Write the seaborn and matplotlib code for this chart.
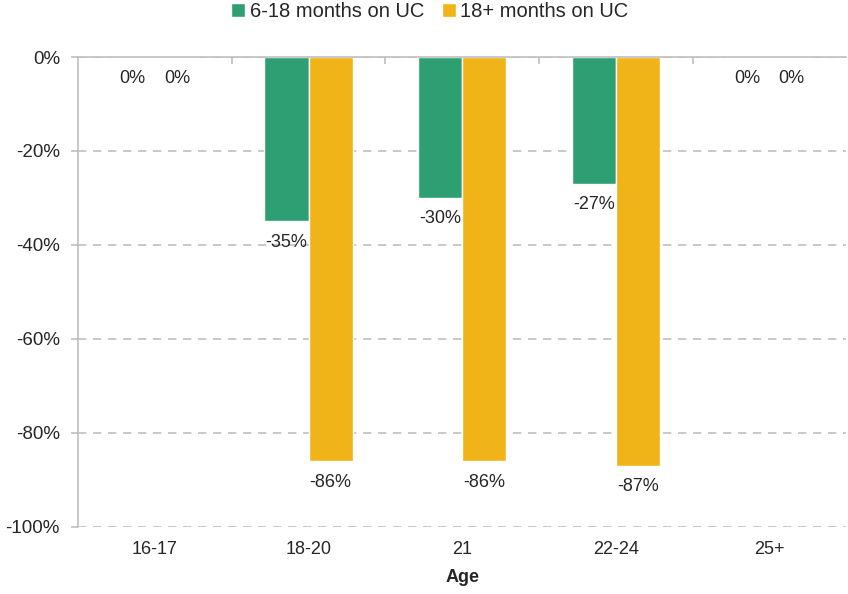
import pandas as pd
import matplotlib.pyplot as plt
import matplotlib.ticker as mticker
import seaborn as sns

ages = ['16-17', '18-20', '21', '22-24', '25+']
short_uc = [0, -35, -30, -27, 0]
long_uc = [0, -86, -86, -87, 0]
series = ['6-18 months on UC', '18+ months on UC']
colours = ['#2E9E73', '#F0B418']

df = pd.DataFrame({
    'age': ages * 2,
    'change': short_uc + long_uc,
    'group': [series[0]] * len(ages) + [series[1]] * len(ages),
})

sns.set_style('white')
plt.rcParams['font.family'] = ['Liberation Sans', 'DejaVu Sans']

fig = plt.figure(figsize=(8.48, 5.94), dpi=100)
ax = fig.add_axes([0.092, 0.113, 0.906, 0.791])

sns.barplot(data=df, x='age', y='change', hue='group', palette=colours,
            width=0.575, saturation=1, ax=ax, legend=True)

# labels go under the end of each bar, zeros included
for cont in ax.containers:
    for bar in cont:
        h = bar.get_height()
        ax.annotate(f'{h:.0f}%', (bar.get_x() + bar.get_width() / 2, h),
                    xytext=(0, -9), textcoords='offset points',
                    ha='center', va='top', fontsize=13, color='#262626')

ax.set_ylim(-100, 0)
ax.set_xlim(-0.5, 4.5)
ax.set_yticks(range(-100, 1, 20))
ax.yaxis.set_major_formatter(mticker.FuncFormatter(lambda v, p: f'{v:.0f}%'))
ax.yaxis.grid(True, linestyle=(0, (5, 4)), color='#BFBFBF', linewidth=1.2)
ax.set_axisbelow(True)

for s in ['right', 'bottom']:
    ax.spines[s].set_visible(False)
for s in ['left', 'top']:
    ax.spines[s].set_color('#BFBFBF')
    ax.spines[s].set_linewidth(1.2)

ax.set_xticks([0.5, 1.5, 2.5, 3.5], minor=True)
ax.tick_params(axis='x', which='major', length=0, labelsize=13, pad=10)
ax.tick_params(axis='x', which='minor', top=True, bottom=False,
               direction='in', length=5, color='#BFBFBF', width=1.2)
ax.tick_params(axis='y', which='major', left=True, length=5,
               color='#BFBFBF', width=1.2, labelsize=13.5, pad=8)

ax.set_xlabel('Age', fontsize=13, fontweight='bold', labelpad=8)
ax.set_ylabel('')

ax.legend(loc='lower center', bbox_to_anchor=(0.458, 1.06), ncol=2,
          frameon=False, fontsize=14.5, handlelength=0.7, handleheight=0.7,
          handletextpad=0.2, columnspacing=0.9, borderaxespad=0)

fig.savefig('out.png', dpi=100)
